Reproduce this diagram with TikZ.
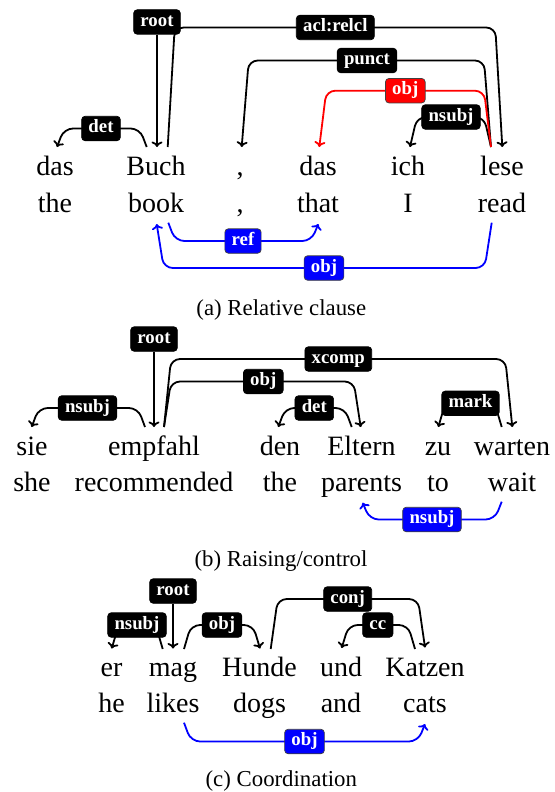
\documentclass[tikz,border=0pt]{standalone}
\usepackage{fontspec}
\setmainfont{Liberation Serif}
\usetikzlibrary{arrows.meta,calc,backgrounds}
\begin{document}
\begin{tikzpicture}[x=1pt,y=-1pt,
  word/.style={anchor=base,inner sep=0pt,font=\fontsize{28}{30}\selectfont},
  captxt/.style={anchor=base,inner sep=0pt,font=\fontsize{22.8}{26}\selectfont},
  lab/.style={rounded corners=3.5pt,fill=black,draw=black,text=white,
    font=\fontsize{18.8}{20}\selectfont\bfseries,inner xsep=6.8pt,inner ysep=3.5pt,
    text height=13pt,text depth=4.5pt,line width=0.7pt},
  bluelab/.style={lab,fill=blue,draw=black!75},
  redlab/.style={lab,fill=red,draw=black!75},
  dep/.style={draw=black,line width=1.8pt,rounded corners=9pt,-{To[length=5.5pt,width=11pt]}},
  bluedep/.style={dep,draw=blue},
  reddep/.style={dep,draw=red},
]
\useasboundingbox (0,0) rectangle (554,792);

% ---------------- (a) Relative clause ----------------
\node[word] (a1) at (55,175) {das};
\node[word] (a2) at (156,175) {Buch};
\node[word] (a3) at (240,175) {,};
\node[word] (a4) at (318,175) {das};
\node[word] (a5) at (408,175) {ich};
\node[word] (a6) at (502,175) {lese};
\node[word] (g1) at (55,212) {the};
\node[word] (g2) at (156,212) {book};
\node[word] (g3) at (240,212) {,};
\node[word] (g4) at (318,212) {that};
\node[word] (g5) at (408,212) {I};
\node[word] (g6) at (502,212) {read};

\coordinate (a1C) at (57,147);
\coordinate (a2L) at (146.7,147);
\coordinate (a2C) at (157,147);
\coordinate (a2R) at (167.7,147);
\coordinate (a3C) at (241.7,147);
\coordinate (a4C) at (319.3,147);
\coordinate (a5C) at (410,147);
\coordinate (a6L) at (491,147);
\coordinate (a6C) at (502.3,147);
\coordinate (g2R) at (168.3,222.7);
\coordinate (g2C) at (156.7,224);
\coordinate (g4C) at (318.3,224);
\coordinate (g6L) at (491.7,222.7);

\node[lab] (rootA) at (157,22) {root};
\node[lab] (detA) at (101,128.5) {det};
\node[lab] (aclA) at (335.3,27.5) {acl:relcl};
\node[lab] (punctA) at (367,60.5) {punct};
\node[lab] (nsubjA) at (451,117) {nsubj};
\node[redlab] (objA) at (405.3,90.7) {obj};
\node[bluelab] (refA) at (243,241) {ref};
\node[bluelab] (objAb) at (324,268) {obj};

\node[captxt] (capA) at (281.3,315) {(a) Relative clause};

\begin{scope}[on background layer]
\draw[dep] (rootA.south) -- (a2C);
\draw[dep] (a2L) -- ($(a2L |- detA)+(-7,0)$) -- ($(a1C |- detA)+(7,0)$) -- (a1C);
\draw[dep] (a2R) -- ($(a2R |- aclA)+(7,0)$) -- ($(a6C |- aclA)+(-7,0)$) -- (a6C);
\draw[dep] (a6L) -- ($(a6L |- punctA)+(-7,0)$) -- ($(a3C |- punctA)+(7,0)$) -- (a3C);
\draw[dep] (a6L) -- ($(a6L |- nsubjA)+(-7,0)$) -- ($(a5C |- nsubjA)+(7,0)$) -- (a5C);
\draw[reddep] (a6L) -- ($(a6L |- objA)+(-7,0)$) -- ($(a4C |- objA)+(7,0)$) -- (a4C);
\draw[bluedep] (g2R) -- ($(g2R |- refA)+(7,0)$) -- ($(g4C |- refA)+(-7,0)$) -- (g4C);
\draw[bluedep] (g6L) -- ($(g6L |- objAb)+(-7,0)$) -- ($(g2C |- objAb)+(7,0)$) -- (g2C);
\end{scope}

% ---------------- (b) Raising/control ----------------
\node[word] (b1) at (32,455) {sie};
\node[word] (b2) at (154,455) {empfahl};
\node[word] (b3) at (280,455) {den};
\node[word] (b4) at (361.5,455) {Eltern};
\node[word] (b5) at (438,455) {zu};
\node[word] (b6) at (512,455) {warten};
\node[word] (h1) at (32,491) {she};
\node[word] (h2) at (154,491) {recommended};
\node[word] (h3) at (280,491) {the};
\node[word] (h4) at (361.5,491) {parents};
\node[word] (h5) at (438,491) {to};
\node[word] (h6) at (512,491) {wait};

\coordinate (b1C) at (31.7,427);
\coordinate (b2L) at (145,427);
\coordinate (b2C) at (154,427);
\coordinate (b2R) at (164,427);
\coordinate (b3C) at (278.3,427);
\coordinate (b4L) at (351.7,427);
\coordinate (b4C) at (360.7,427);
\coordinate (b5C) at (438.3,427);
\coordinate (b6L) at (501.7,427);
\coordinate (b6C) at (512.3,427);
\coordinate (h4C) at (362.7,502.7);
\coordinate (h6L) at (501.7,501.7);

\node[lab] (rootB) at (154,339) {root};
\node[lab] (nsubjB) at (87.5,408) {nsubj};
\node[lab] (objB) at (263.3,381.5) {obj};
\node[lab] (xcompB) at (338.3,359) {xcomp};
\node[lab] (detB) at (314.3,408) {det};
\node[lab] (markB) at (470.5,403.3) {mark};
\node[bluelab] (nsubjBb) at (432,519.5) {nsubj};

\node[captxt] (capB) at (281,566) {(b) Raising/control};

\begin{scope}[on background layer]
\draw[dep] (rootB.south) -- (b2C);
\draw[dep] (b2L) -- ($(b2L |- nsubjB)+(-7,0)$) -- ($(b1C |- nsubjB)+(7,0)$) -- (b1C);
\draw[dep] (b2R) -- ($(b2R |- objB)+(7,0)$) -- ($(b4C |- objB)+(-7,0)$) -- (b4C);
\draw[dep] (b2R) -- ($(b2R |- xcompB)+(7,0)$) -- ($(b6C |- xcompB)+(-7,0)$) -- (b6C);
\draw[dep] (b4L) -- ($(b4L |- detB)+(-7,0)$) -- ($(b3C |- detB)+(7,0)$) -- (b3C);
\draw[dep] (b6L) -- ($(b6L |- markB)+(-7,0)$) -- ($(b5C |- markB)+(7,0)$) -- (b5C);
\draw[bluedep] (h6L) -- ($(h6L |- nsubjBb)+(-7,0)$) -- ($(h4C |- nsubjBb)+(7,0)$) -- (h4C);
\end{scope}

% ---------------- (c) Coordination ----------------
\node[word] (c1) at (111.5,676) {er};
\node[word] (c2) at (173,676) {mag};
\node[word] (c3) at (259.5,676) {Hunde};
\node[word] (c4) at (341,676) {und};
\node[word] (c5) at (425,676) {Katzen};
\node[word] (k1) at (111.5,712.7) {he};
\node[word] (k2) at (173,712.7) {likes};
\node[word] (k3) at (259.5,712.7) {dogs};
\node[word] (k4) at (341,712.7) {and};
\node[word] (k5) at (425,712.7) {cats};

\coordinate (c1C) at (111.7,648.5);
\coordinate (c2L) at (162.7,649);
\coordinate (c2C) at (173,648.5);
\coordinate (c2R) at (184,649);
\coordinate (c3C) at (260,648.5);
\coordinate (c3R) at (270.7,649);
\coordinate (c4C) at (341.7,648);
\coordinate (c5L) at (415,649);
\coordinate (c5C) at (425,647.5);
\coordinate (k2R) at (184,722.7);
\coordinate (k5C) at (425,724);

\node[lab] (rootC) at (173,591) {root};
\node[lab] (nsubjC) at (137,625) {nsubj};
\node[lab] (objC) at (222,625) {obj};
\node[lab] (conjC) at (347.7,599) {conj};
\node[lab] (ccC) at (377.8,625) {cc};
\node[bluelab] (objCb) at (304.5,741.5) {obj};

\node[captxt] (capC) at (281.3,786) {(c) Coordination};

\begin{scope}[on background layer]
\draw[dep] (rootC.south) -- (c2C);
\draw[dep] (c2L) -- ($(c2L |- nsubjC)+(-7,0)$) -- ($(c1C |- nsubjC)+(7,0)$) -- (c1C);
\draw[dep] (c2R) -- ($(c2R |- objC)+(7,0)$) -- ($(c3C |- objC)+(-7,0)$) -- (c3C);
\draw[dep] (c3R) -- ($(c3R |- conjC)+(7,0)$) -- ($(c5C |- conjC)+(-7,0)$) -- (c5C);
\draw[dep] (c5L) -- ($(c5L |- ccC)+(-7,0)$) -- ($(c4C |- ccC)+(7,0)$) -- (c4C);
\draw[bluedep] (k2R) -- ($(k2R |- objCb)+(7,0)$) -- ($(k5C |- objCb)+(-7,0)$) -- (k5C);
\end{scope}

\end{tikzpicture}
\end{document}
